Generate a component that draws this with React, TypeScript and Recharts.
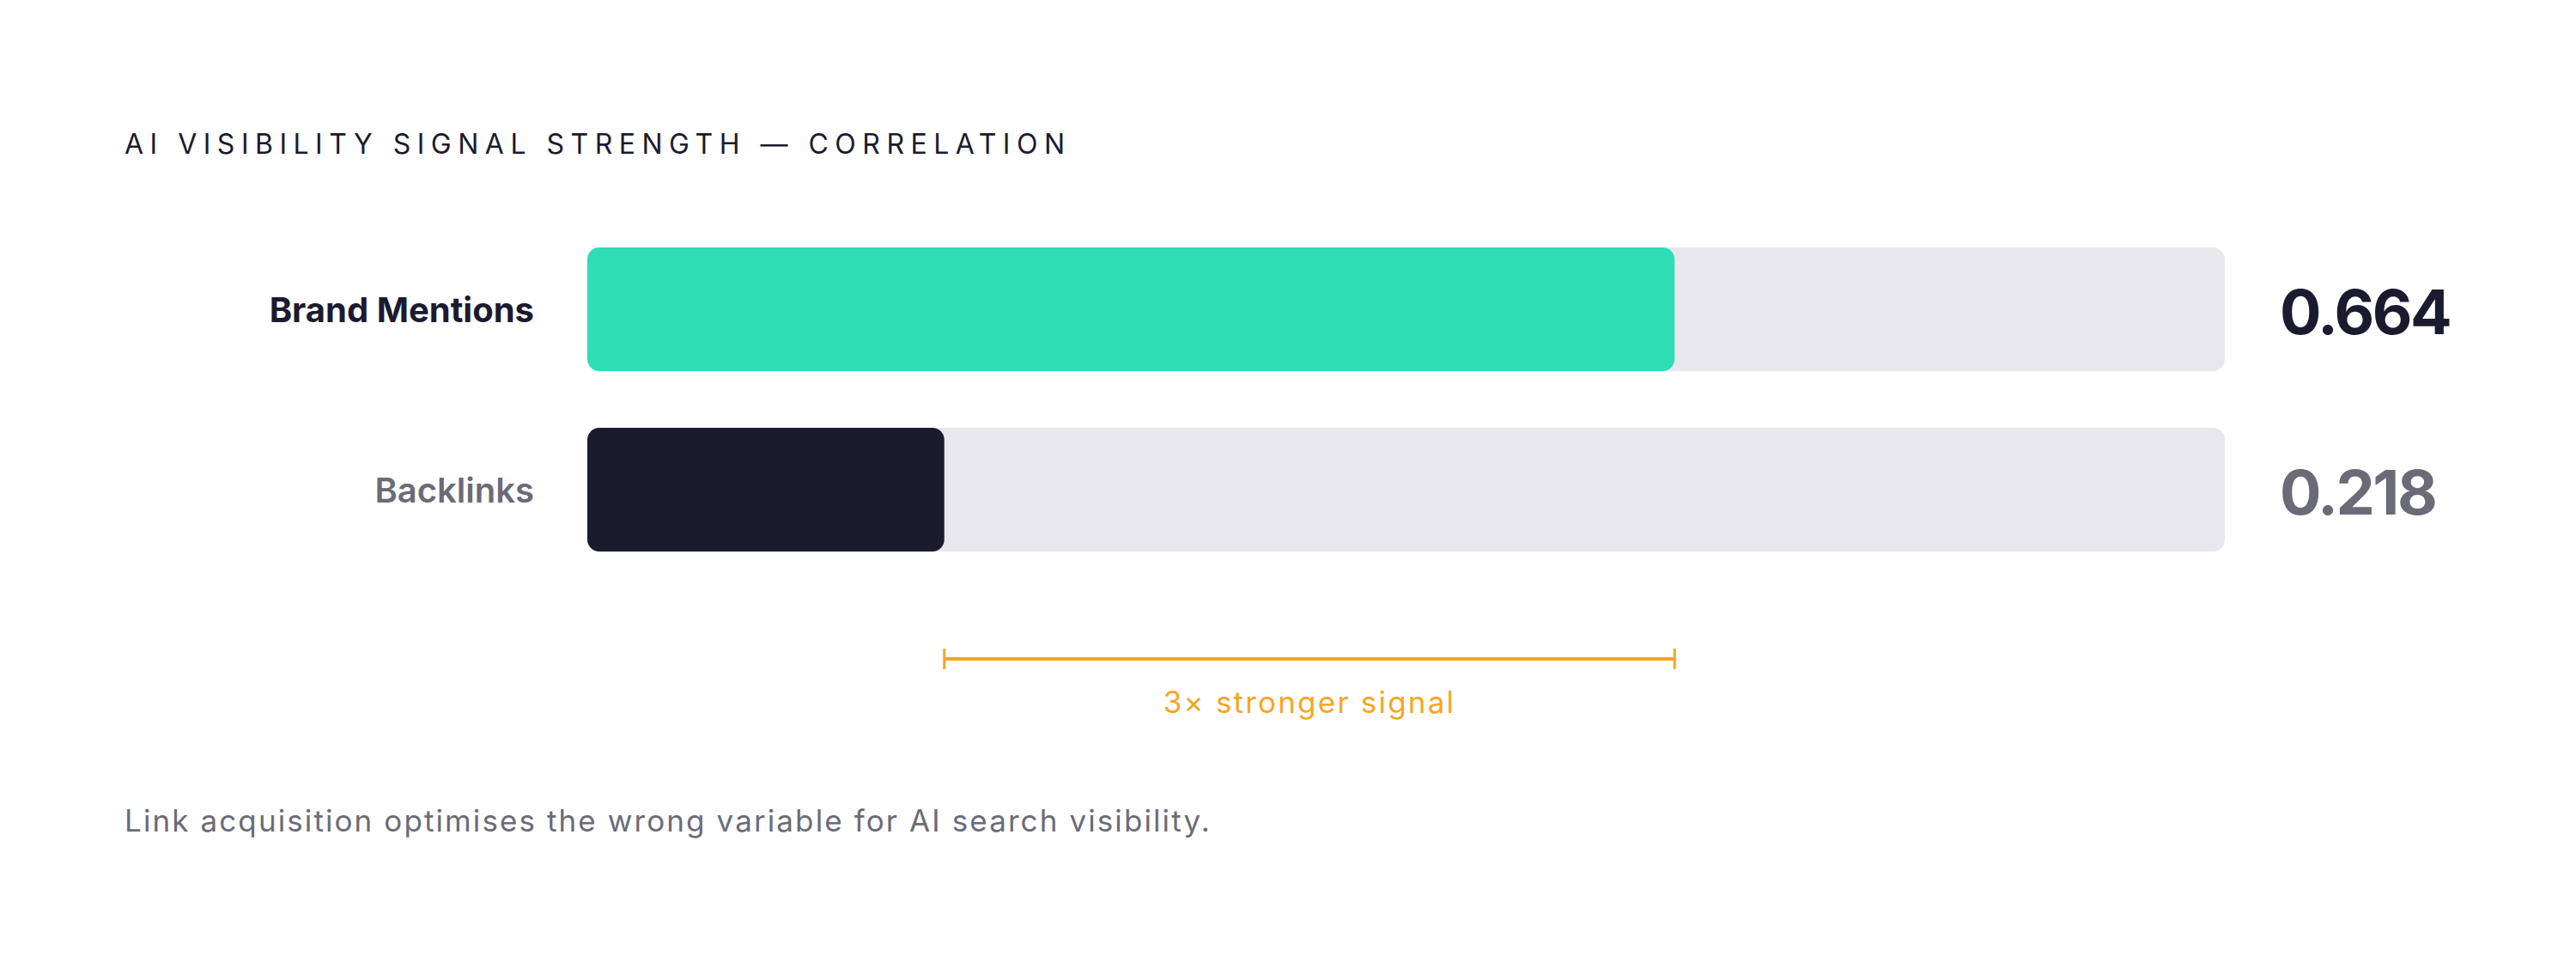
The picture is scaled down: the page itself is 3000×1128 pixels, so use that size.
import React from 'react';
import { BarChart, Bar, XAxis, YAxis, Cell, ReferenceLine } from 'recharts';

const categories: string[] = ['Brand Mentions', 'Backlinks'];
const correlations: number[] = [0.664, 0.218];
const valueLabels: string[] = ['0.664', '0.218'];

const barColors = ['#2EDDB6', '#1B1B2F'];
const labelColors = ['#1B1B2F', '#6B6B78'];
const FONT = 'Inter, "DejaVu Sans", sans-serif';

const data = categories.map((name, i) => ({ name, value: correlations[i], label: valueLabels[i] }));

const LeftTick = (props: any) => {
  const { x, y, payload, index } = props;
  return (
    <text x={x} y={y} textAnchor="end" dominantBaseline="central" fontFamily={FONT}
      fontSize={40} fontWeight={index === 0 ? 700 : 600} fill={labelColors[index]}>
      {payload.value}
    </text>
  );
};

const RightTick = (props: any) => {
  const { x, y, index } = props;
  return (
    <text x={x} y={y + 2} textAnchor="start" dominantBaseline="central" fontFamily={FONT}
      fontSize={72} fontWeight={700} fill={labelColors[index]} letterSpacing={-2.5}>
      {valueLabels[index]}
    </text>
  );
};

// bracket drawn below the bars, between the two bar ends
const Bracket = (props: any) => {
  const { x1, x2, y1 } = props;
  const y = y1 + 197;
  const c = '#F5A623';
  return (
    <g>
      <line x1={x1} x2={x2} y1={y} y2={y} stroke={c} strokeWidth={4} />
      <line x1={x1} x2={x1} y1={y - 12} y2={y + 12} stroke={c} strokeWidth={3} />
      <line x1={x2} x2={x2} y1={y - 12} y2={y + 12} stroke={c} strokeWidth={3} />
      <text x={(x1 + x2) / 2} y={y + 50} textAnchor="middle" dominantBaseline="central"
        fontFamily={FONT} fontSize={35} fill={c} letterSpacing={2.2}>
        3× stronger signal
      </text>
    </g>
  );
};

export default function App() {
  return (
    <div style={{ position: 'absolute', left: 0, top: 0, width: 3000, height: 1128, background: '#fff', fontFamily: FONT }}>
      <div style={{ position: 'absolute', left: 145, top: 148, fontSize: 32, letterSpacing: 7.5, color: '#1B1B2F', lineHeight: '40px', whiteSpace: 'nowrap' }}>
        AI VISIBILITY SIGNAL STRENGTH — CORRELATION
      </div>
      <div style={{ position: 'absolute', top: 0, left: 0 }}>
        <BarChart width={3000} height={1128} data={data} layout="vertical"
          margin={{ top: 255, bottom: 453, left: 144, right: 0 }} barSize={144}>
          <XAxis type="number" domain={[0, 1]} hide />
          <YAxis yAxisId="l" type="category" dataKey="name" width={540} axisLine={false}
            tickLine={false} tickSize={0} tickMargin={62} tick={<LeftTick />} />
          <YAxis yAxisId="r" orientation="right" type="category" dataKey="name" width={409}
            axisLine={false} tickLine={false} tickSize={0} tickMargin={64} tick={<RightTick />} />
          <Bar yAxisId="l" dataKey="value" radius={14} isAnimationActive={false}
            background={{ fill: '#E8E7EE', radius: 14 } as any}>
            {data.map((d, i) => (
              <Cell key={d.name} fill={barColors[i]} />
            ))}
          </Bar>
          <ReferenceLine yAxisId="l" ifOverflow="visible"
            segment={[{ x: correlations[1], y: categories[1] }, { x: correlations[0], y: categories[1] }]}
            shape={(p: any) => <Bracket {...p} />} />
        </BarChart>
      </div>
      <div style={{ position: 'absolute', left: 145, top: 934, fontSize: 35, letterSpacing: 2.1, color: '#6B6B78', lineHeight: '42px', whiteSpace: 'nowrap' }}>
        Link acquisition optimises the wrong variable for AI search visibility.
      </div>
    </div>
  );
}
